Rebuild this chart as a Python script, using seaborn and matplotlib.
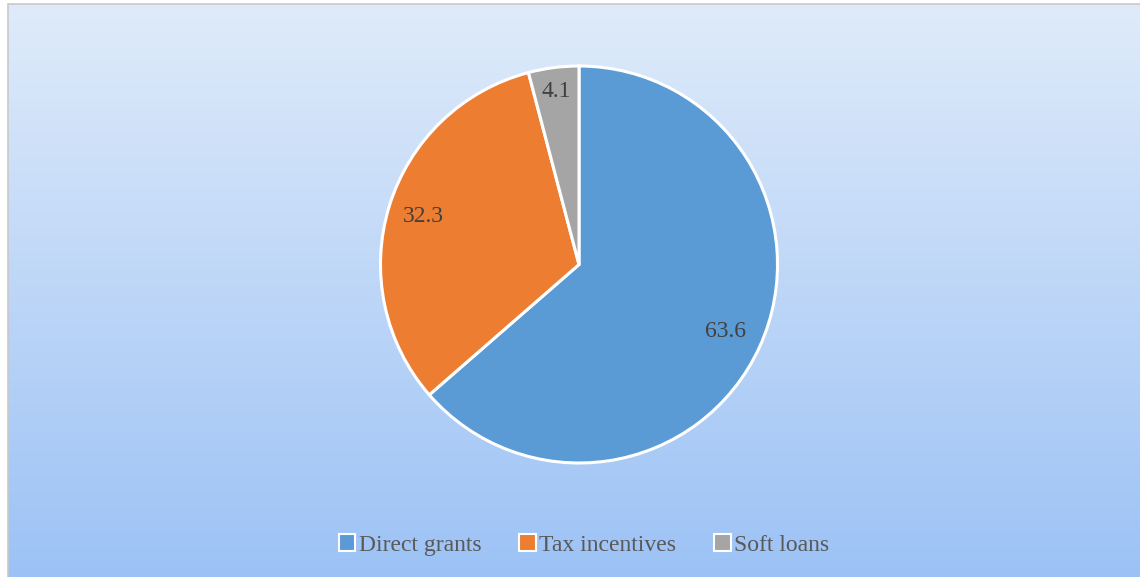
import numpy as np
import matplotlib
matplotlib.use("Agg")
import matplotlib.pyplot as plt
import matplotlib.patches as mpatches
from matplotlib.colors import LinearSegmentedColormap
import seaborn as sns

categories = ['Direct grants', 'Tax incentives', 'Soft loans']
values = [63.6, 32.3, 4.1]
label_text = ['63.6', '32.3', '4.1']

sns.set_style("white")
plt.rcParams['font.family'] = ['Liberation Serif', 'DejaVu Serif']

colors = ['#5B9BD5', '#ED7D31', '#A5A5A5']
label_dist = [0.81, 0.82, 0.88]

W, H = 1140, 577
fig = plt.figure(figsize=(W / 100, H / 100), dpi=100)
fig.patch.set_facecolor('white')

# background gradient with thin frame
bg = fig.add_axes([0, 0, 1, 1], zorder=0)
bg.set_xlim(0, 1)
bg.set_ylim(0, 1)
bg.axis('off')
grad = np.linspace(0, 1, 256).reshape(-1, 1)
cmap = LinearSegmentedColormap.from_list('bg', ['#DFEBFA', '#9CC2F5'])
x0, y1 = 8 / W, 1 - 4 / H
bg.imshow(grad, aspect='auto', cmap=cmap, extent=[x0, 1, 0, y1], origin='upper')
bg.add_patch(mpatches.Rectangle((x0, -0.01), 1.0, y1 + 0.01, fill=False,
                                edgecolor='#C9C9C9', linewidth=1.2))

# pie
cx, cy, r = 579, 264.5, 198.5
pad = 1.05
ax = fig.add_axes([(cx - r * pad) / W, (H - cy - r * pad) / H, 2 * r * pad / W, 2 * r * pad / H])
ax.patch.set_alpha(0)
wedges, _ = ax.pie(values, colors=colors, startangle=90, counterclock=False,
                   wedgeprops=dict(edgecolor='white', linewidth=2.2))
ax.set_xlim(-pad, pad)
ax.set_ylim(-pad, pad)
ax.set_aspect('equal')

for w, txt, d in zip(wedges, label_text, label_dist):
    ang = np.deg2rad((w.theta1 + w.theta2) / 2)
    ax.text(d * np.cos(ang), d * np.sin(ang), txt, ha='center', va='center',
            fontsize=17, color='#404040')

handles = [mpatches.Patch(facecolor=c, edgecolor='white', linewidth=1.5, label=l)
           for c, l in zip(colors, categories)]
fig.legend(handles=handles, loc='center', bbox_to_anchor=(584 / W, 1 - 545 / H), ncol=3,
           frameon=False, fontsize=17, handlelength=0.7, handleheight=0.7,
           handletextpad=0.15, columnspacing=1.6, labelcolor='#595959')

fig.savefig('out.png', dpi=100)
